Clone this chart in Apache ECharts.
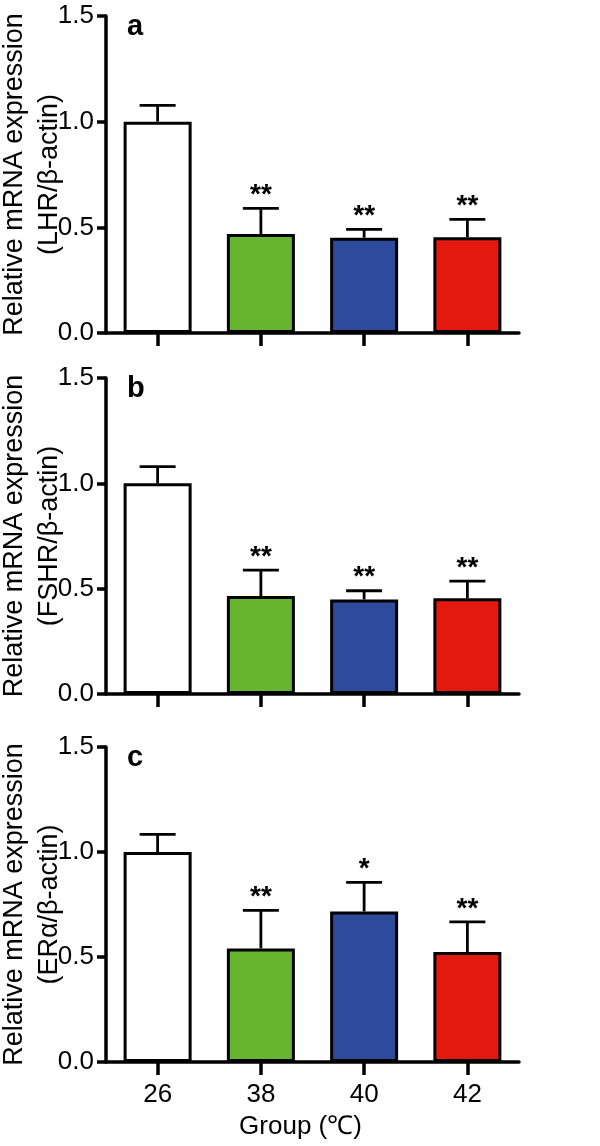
<!DOCTYPE html>
<html><head><meta charset="utf-8">
<script src="https://cdn.jsdelivr.net/npm/echarts@6/dist/echarts.min.js"></script>
<style>html,body{margin:0;padding:0;background:#fff}#c{width:600px;height:1146px}</style>
</head><body><div id="c"></div>
<script>
const groups = ['26', '38', '40', '42'];
const panelLabels = ['a', 'b', 'c'];
const yTitles = ['Relative mRNA expression\n(LHR/β-actin)', 'Relative mRNA expression\n(FSHR/β-actin)', 'Relative mRNA expression\n(ERα/β-actin)'];
const xTitle = 'Group (℃)';
const meanA = [1.0, 0.468, 0.451, 0.453];
const errA = [0.077, 0.122, 0.039, 0.085];
const sigA = ['', '**', '**', '**'];
const meanB = [1.0, 0.465, 0.449, 0.454];
const errB = [0.079, 0.123, 0.041, 0.082];
const sigB = ['', '**', '**', '**'];
const meanC = [1.0, 0.541, 0.717, 0.524];
const errC = [0.084, 0.181, 0.138, 0.143];
const sigC = ['', '**', '*', '**'];
const yMin = 0, yMax = 1.5, yStep = 0.5;
const barColors = ['#ffffff', '#66b42f', '#2d4a9b', '#e3190f'];

const means = [meanA, meanB, meanC];
const errs = [errA, errB, errC];
const sigs = [sigA, sigB, sigC];
const FONT = '"Liberation Sans", Arial, Helvetica, sans-serif';
const gridTops = [16, 378, 747];
const gridHeights = [317, 316, 315];
const LW = 3.5;

const chart = echarts.init(document.getElementById('c'), null, {renderer: 'canvas'});
const grids = [], xAxes = [], yAxes = [], series = [], graphics = [];
for (let p = 0; p < 3; p++) {
  grids.push({left: 106, width: 413, top: gridTops[p], height: gridHeights[p], containLabel: false, outerBoundsMode: 'none'});
  xAxes.push({
    type: 'category', gridIndex: p, data: groups,
    axisLine: {show: true, lineStyle: {color: '#000', width: LW}},
    axisTick: {show: true, alignWithLabel: true, length: 13, lineStyle: {color: '#000', width: LW}},
    axisLabel: {show: p === 2, color: '#000', fontSize: 26, fontFamily: FONT, margin: 20},
    name: p === 2 ? xTitle : '', nameLocation: 'middle', nameGap: 52, nameMoveOverlap: false,
    nameTextStyle: {color: '#000', fontSize: 26, fontFamily: FONT, padding: [0, 24, 0, 0]},
    splitLine: {show: false}
  });
  yAxes.push({
    type: 'value', gridIndex: p, min: yMin, max: yMax, interval: yStep,
    axisLine: {show: true, lineStyle: {color: '#000', width: LW}},
    axisTick: {show: true, length: 9, lineStyle: {color: '#000', width: LW}},
    axisLabel: {color: '#000', fontSize: 26, fontFamily: FONT, margin: 12, formatter: v => v.toFixed(1)},
    splitLine: {show: false}
  });
  series.push({
    type: 'bar', xAxisIndex: p, yAxisIndex: p, barWidth: 68, z: 3,
    data: means[p].map((v, i) => ({value: v, itemStyle: {color: barColors[i], borderColor: '#000', borderWidth: 3}})),
    animation: false
  });
  series.push({
    type: 'custom', xAxisIndex: p, yAxisIndex: p, z: 2,
    data: means[p].map((v, i) => [i, v, errs[p][i], sigs[p][i]]),
    renderItem: function (params, api) {
      const i = api.value(0), m = api.value(1), e = api.value(2);
      const sig = sigs[p][params.dataIndex];
      const b = api.coord([i, m]);
      const t = api.coord([i, m + e]);
      const hw = 18;
      const children = [
        {type: 'line', shape: {x1: b[0], y1: b[1], x2: t[0], y2: t[1]}, style: {stroke: '#000', lineWidth: 2.8}},
        {type: 'line', shape: {x1: t[0] - hw, y1: t[1], x2: t[0] + hw, y2: t[1]}, style: {stroke: '#000', lineWidth: 2.8}}
      ];
      if (sig) children.push({type: 'text', style: {text: sig, x: t[0], y: t[1] + 1, textAlign: 'center', textVerticalAlign: 'bottom', fill: '#000', font: 'bold 28px ' + FONT}});
      return {type: 'group', children: children};
    },
    animation: false
  });
  graphics.push({type: 'text', left: 127, top: gridTops[p] - 4, style: {text: panelLabels[p], fill: '#000', font: 'bold 29px ' + FONT}});
  graphics.push({
    type: 'text', x: 32, y: gridTops[p] + gridHeights[p] / 2, rotation: Math.PI / 2,
    style: {text: yTitles[p], fill: '#000', font: '27px ' + FONT, lineHeight: 35, textAlign: 'center', textVerticalAlign: 'middle', align: 'center', verticalAlign: 'middle'}
  });
}
chart.setOption({
  animation: false,
  backgroundColor: '#fff',
  grid: grids, xAxis: xAxes, yAxis: yAxes, series: series, graphic: graphics
});
</script></body></html>
